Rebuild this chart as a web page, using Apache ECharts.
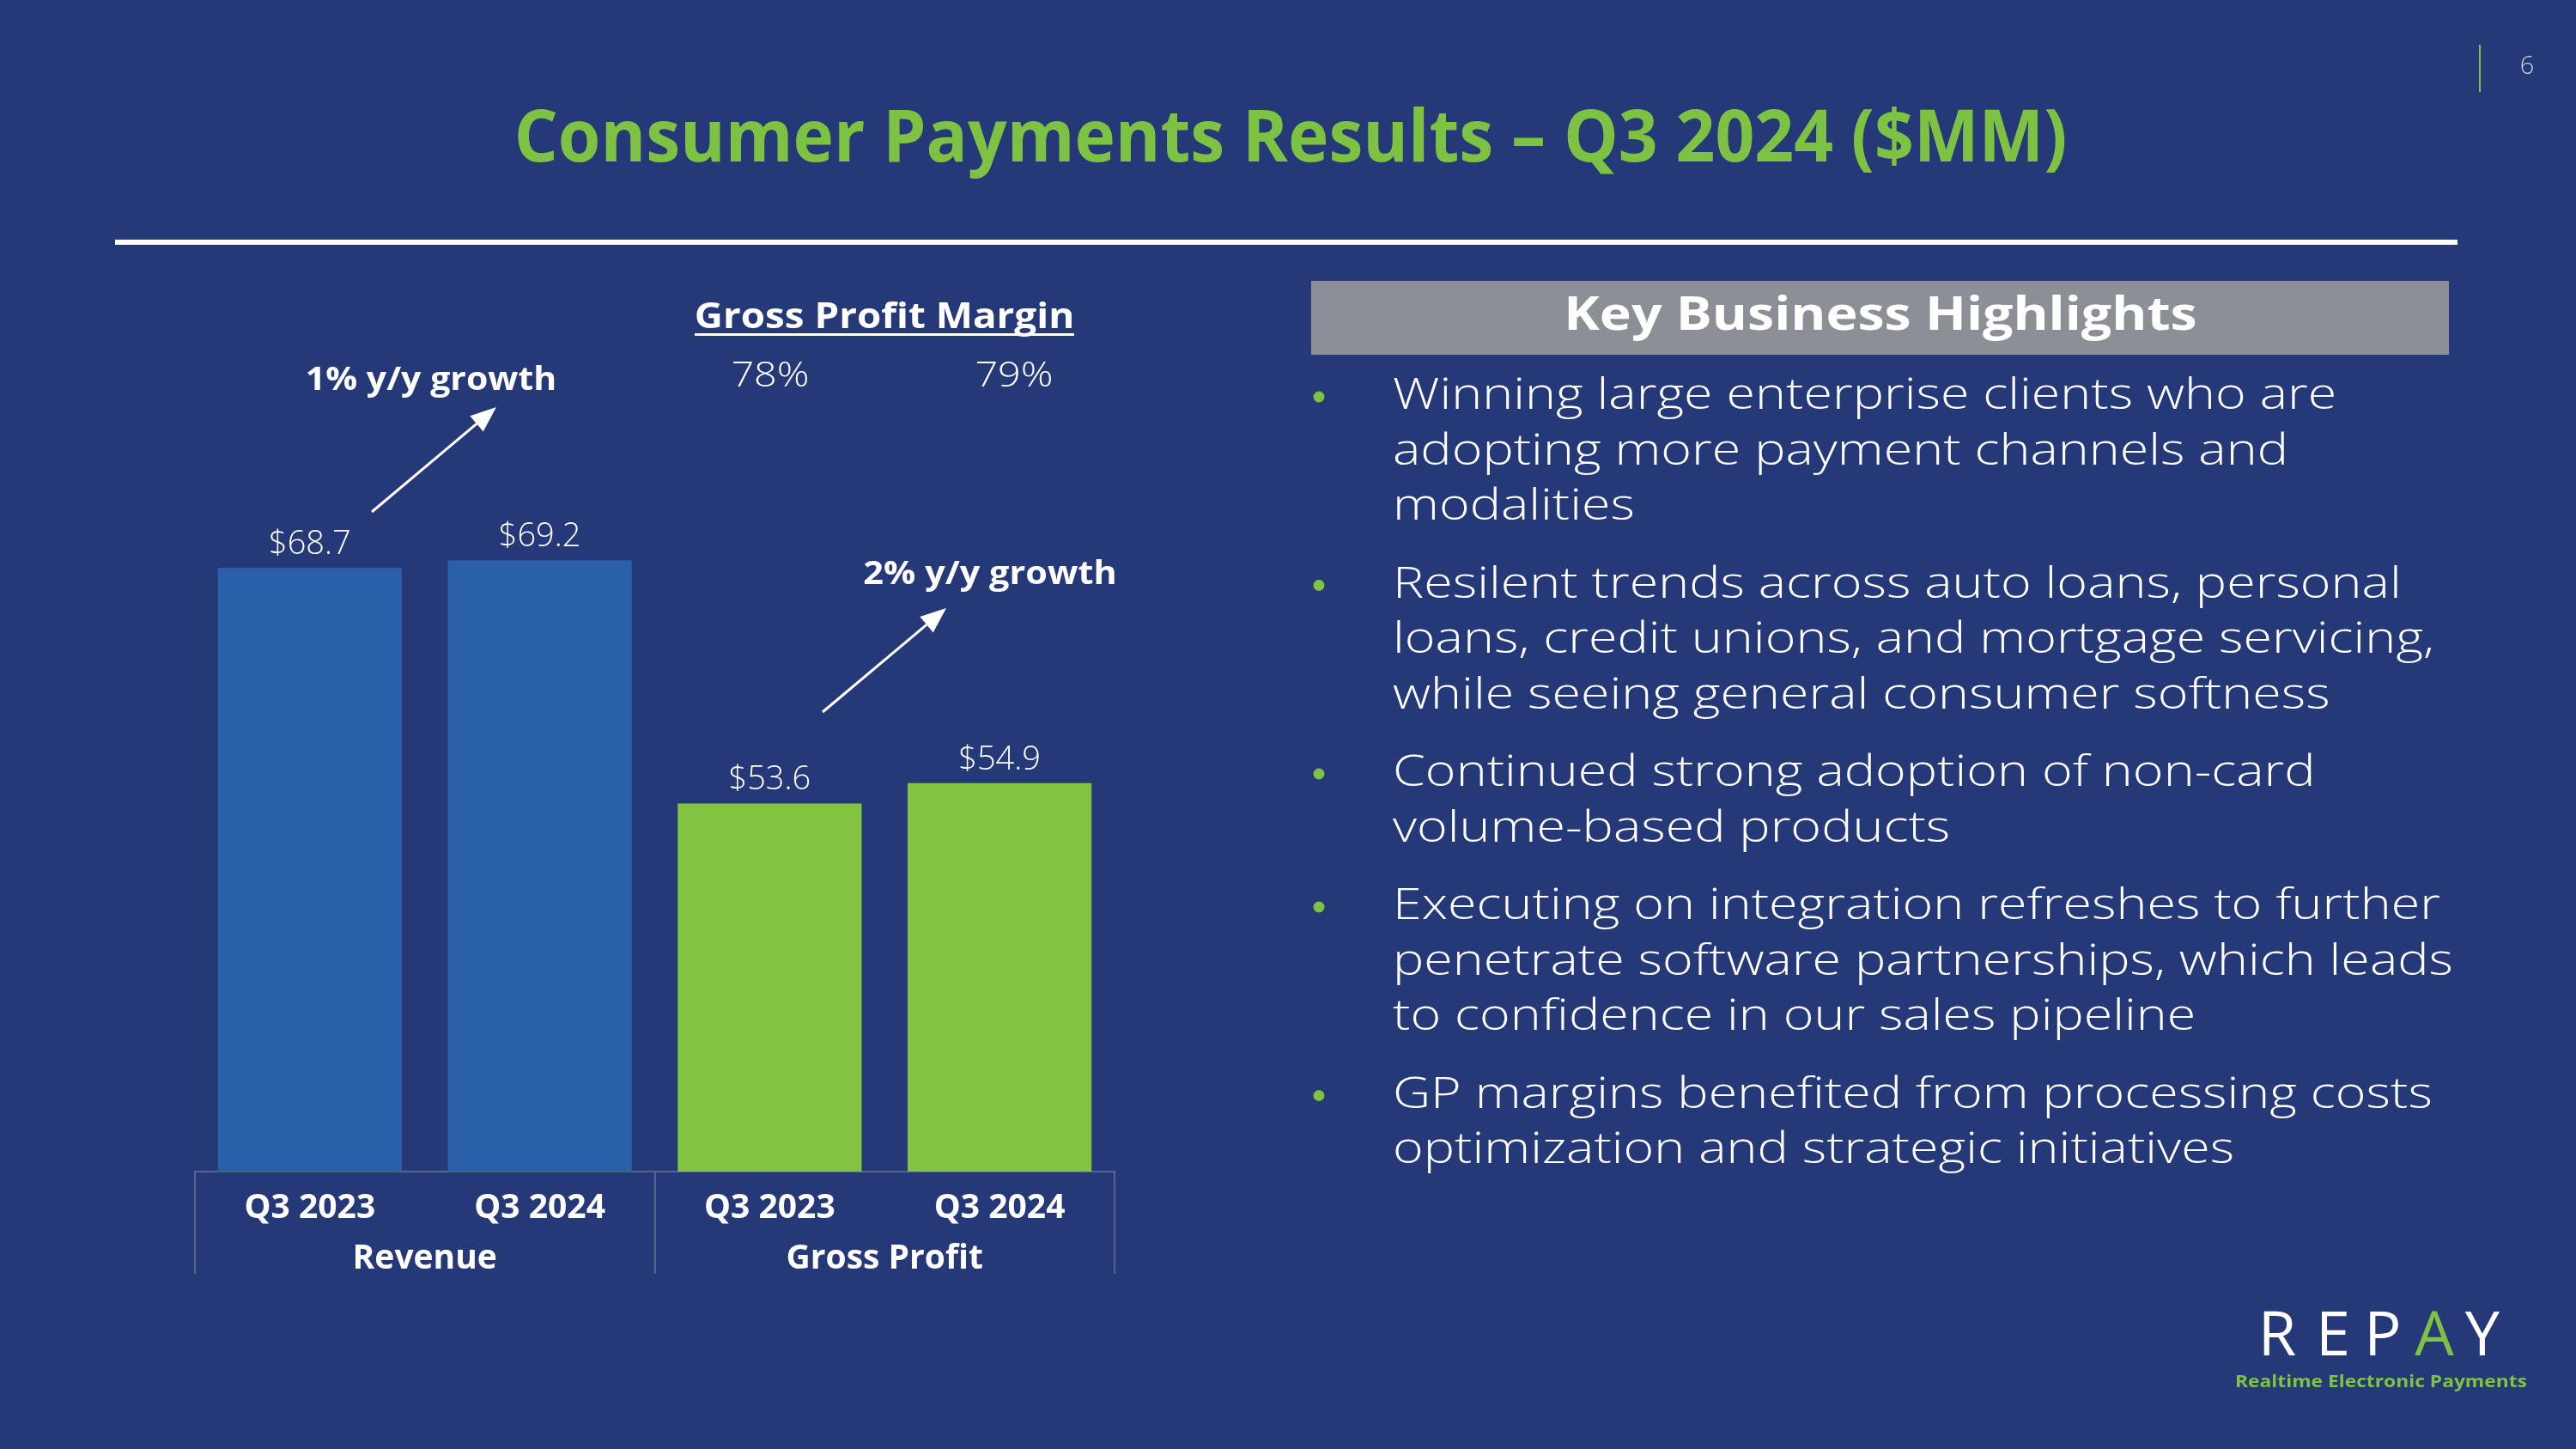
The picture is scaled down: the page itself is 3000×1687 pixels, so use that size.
<!DOCTYPE html>
<html>
<head>
    <meta charset="UTF-8">
    <title>Consumer Payments Results</title>
    <style>
        html, body {
            margin: 0;
            height: 100%;
            background-color: #253877;
        }
    </style>
</head>
<body>
<div id="main" style="width:3000px;height:1687px"></div>

<script src="https://cdn.jsdelivr.net/npm/echarts@6/dist/echarts.min.js"></script>
<script type="text/javascript">
    // chart data
    var categories = ['Q3 2023', 'Q3 2024', 'Q3 2023', 'Q3 2024'];
    var groups = ['Revenue', 'Gross Profit'];
    var values = [68.7, 69.2, 53.6, 54.9];
    var barColors = ['#2A60AA', '#2A60AA', '#82C341', '#82C341'];
    var gpMargin = ['78%', '79%'];
    var growthNotes = ['1% y/y growth', '2% y/y growth'];

    // right panel text, one array per bullet (lines as in the slide)
    var bullet1 = ['Winning large enterprise clients who are', 'adopting more payment channels and', 'modalities'];
    var bullet2 = ['Resilent trends across auto loans, personal', 'loans, credit unions, and mortgage servicing,', 'while seeing general consumer softness'];
    var bullet3 = ['Continued strong adoption of non-card', 'volume-based products'];
    var bullet4 = ['Executing on integration refreshes to further', 'penetrate software partnerships, which leads', 'to confidence in our sales pipeline'];
    var bullet5 = ['GP margins benefited from processing costs', 'optimization and strategic initiatives'];

    var FONT = "'Open Sans', 'Noto Sans', sans-serif";
    var GREEN = '#7DC242';
    var AXIS_GREY = '#56658A';

    // text helper, sx stretches the text sideways (the slide font is wider)
    function txt(text, x, y, size, weight, color, align, sx) {
        return {
            type: 'text', x: x, y: y, scaleX: sx || 1, silent: true,
            style: {
                text: text, fill: color || '#FFFFFF', fontSize: size,
                fontWeight: weight || 'normal', fontFamily: FONT,
                align: align || 'center', verticalAlign: 'middle'
            }
        };
    }

    function arrow(x1, y1, x2, y2) {
        var dx = x2 - x1, dy = y2 - y1;
        var len = Math.sqrt(dx * dx + dy * dy);
        var ux = dx / len, uy = dy / len;
        var head = 30, half = 12;
        var bx = x2 - ux * head, by = y2 - uy * head;
        return [{
            type: 'line', silent: true,
            shape: {x1: x1, y1: y1, x2: bx, y2: by},
            style: {stroke: '#FFFFFF', lineWidth: 3}
        }, {
            type: 'polygon', silent: true,
            shape: {points: [[x2, y2], [bx - uy * half, by + ux * half], [bx + uy * half, by - ux * half]]},
            style: {fill: '#FFFFFF'}
        }];
    }

    var graphics = [];

    // header
    graphics.push(txt('Consumer Payments Results \u2013 Q3 2024 ($MM)', 1503, 164, 84, 'bold', GREEN, 'center', 0.955));
    graphics.push({type: 'rect', silent: true, shape: {x: 134, y: 279, width: 2728, height: 6}, style: {fill: '#FFFFFF'}});
    graphics.push({type: 'rect', silent: true, shape: {x: 2887, y: 52, width: 2, height: 55}, style: {fill: GREEN}});
    graphics.push(txt('6', 2943, 78, 29, 300, '#C8D0E2'));

    // chart annotations
    graphics.push(txt('Gross Profit Margin', 1030, 370, 42, 'bold', '#FFFFFF', 'center', 1.09));
    graphics.push({type: 'rect', silent: true, shape: {x: 809, y: 388, width: 442, height: 3}, style: {fill: '#FFFFFF'}});
    graphics.push(txt(gpMargin[0], 897, 439, 40, 300, '#FFFFFF', 'center', 1.17));
    graphics.push(txt(gpMargin[1], 1181, 439, 40, 300, '#FFFFFF', 'center', 1.17));
    graphics.push(txt(growthNotes[0], 502, 443, 38, 'bold', '#FFFFFF', 'center', 1.08));
    graphics.push(txt(growthNotes[1], 1153, 669, 38, 'bold', '#FFFFFF', 'center', 1.09));
    graphics = graphics.concat(arrow(433, 596, 578, 474));
    graphics = graphics.concat(arrow(958, 829, 1102, 708));

    // right panel
    graphics.push({type: 'rect', silent: true, shape: {x: 1527, y: 327, width: 1325, height: 86}, style: {fill: '#8C8F96'}});
    graphics.push(txt('Key Business Highlights', 2190, 369, 54, 'bold', '#FFFFFF', 'center', 1.16));

    var bullets = [bullet1, bullet2, bullet3, bullet4, bullet5];
    var y = 462;
    bullets.forEach(function (lines) {
        graphics.push({type: 'circle', silent: true, shape: {cx: 1536, cy: y, r: 6.5}, style: {fill: GREEN}});
        lines.forEach(function (line, i) {
            graphics.push(txt(line, 1622, y + i * 64.5, 50, 300, '#FFFFFF', 'left', 1.22));
        });
        y += lines.length * 64.5 + 26;
    });

    // logo
    var logo = ['R', 'E', 'P', 'A', 'Y'];
    var logoX = [2652, 2717, 2775, 2835, 2891];
    logo.forEach(function (ch, i) {
        graphics.push(txt(ch, logoX[i], 1557, 72, 'normal', ch == 'A' ? GREEN : '#FFFFFF'));
    });
    graphics.push(txt('Realtime Electronic Payments', 2773, 1610, 19, 'bold', GREEN, 'center', 1.2));

    var mCharts = echarts.init(document.getElementById('main'));
    var mOptions = {
        backgroundColor: '#253877',
        animation: false,
        grid: {left: 227, right: 1702, top: 456, bottom: 323},
        xAxis: [{
            type: 'category',
            data: categories,
            axisLine: {show: true, lineStyle: {color: AXIS_GREY, width: 2}},
            axisTick: {show: false},
            axisLabel: {color: '#FFFFFF', fontSize: 39, fontWeight: 'bold', fontFamily: FONT, margin: 23}
        }, {
            type: 'category',
            data: groups,
            position: 'bottom',
            axisLine: {show: false},
            axisTick: {show: true, length: 119, lineStyle: {color: AXIS_GREY, width: 2}},
            axisLabel: {color: '#FFFFFF', fontSize: 39, fontWeight: 'bold', fontFamily: FONT, margin: 82}
        }],
        yAxis: {
            type: 'value',
            min: 30,
            max: 80,
            show: false
        },
        series: [{
            type: 'bar',
            xAxisIndex: 0,
            barWidth: '80%',
            data: values.map(function (v, i) {
                return {value: v, itemStyle: {color: barColors[i]}};
            }),
            label: {
                show: true,
                position: 'top',
                distance: 8,
                color: '#FFFFFF',
                fontSize: 38,
                fontWeight: 300,
                fontFamily: FONT,
                formatter: function (p) {
                    return '$' + p.value.toFixed(1);
                }
            }
        }],
        graphic: graphics
    };
    mCharts.setOption(mOptions);
</script>
</body>
</html>
